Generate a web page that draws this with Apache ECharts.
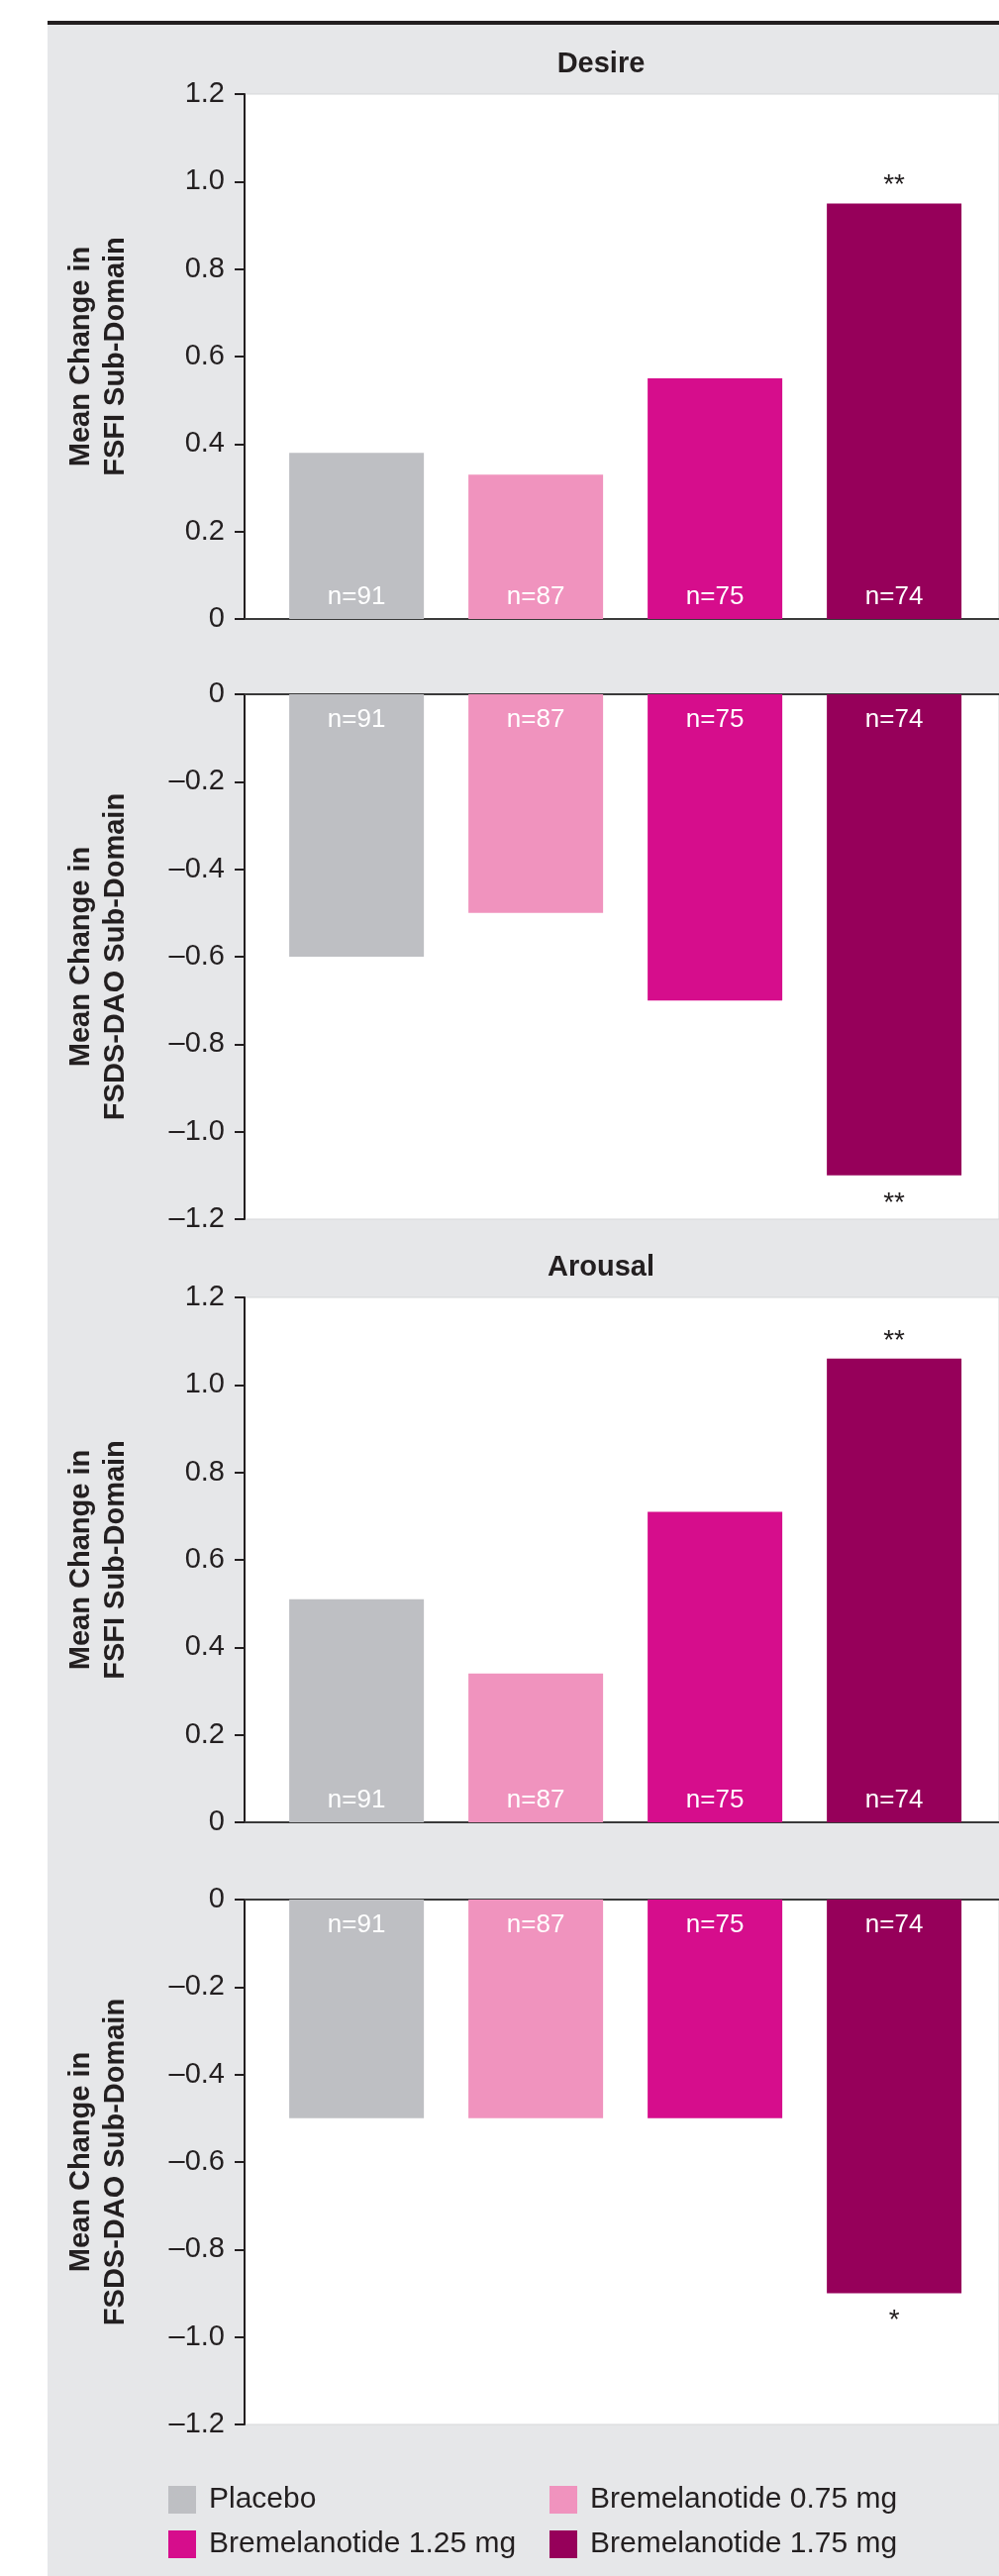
<!DOCTYPE html>
<html>
<head>
<meta charset="utf-8">
<script src="https://cdn.jsdelivr.net/npm/echarts@6/dist/echarts.min.js"></script>
<style>
  html, body { margin: 0; padding: 0; background: #fff; }
  #chart { width: 1009px; height: 2601px; }
</style>
</head>
<body>
<div id="chart"></div>
<script>
// treatment groups
var treatments = ['Placebo', 'Bremelanotide 0.75 mg', 'Bremelanotide 1.25 mg', 'Bremelanotide 1.75 mg'];
var colors = ['#bebfc3', '#f093be', '#d60d8c', '#96005a'];
var nLabels = ['n=91', 'n=87', 'n=75', 'n=74'];

// mean change per sub-domain
var desireFsfi = [0.38, 0.33, 0.55, 0.95];
var desireFsds = [-0.60, -0.50, -0.70, -1.10];
var arousalFsfi = [0.51, 0.34, 0.71, 1.06];
var arousalFsds = [-0.50, -0.50, -0.50, -0.90];

// significance marks
var desireFsfiSig = ['', '', '', '**'];
var desireFsdsSig = ['', '', '', '**'];
var arousalFsfiSig = ['', '', '', '**'];
var arousalFsdsSig = ['', '', '', '*'];

var yNames = ['Mean Change in\nFSFI Sub-Domain', 'Mean Change in\nFSDS-DAO Sub-Domain'];
var yTicksPos = [0, 1.2];
var yTicksNeg = [-1.2, 0];

var FONT = '"Liberation Sans", Arial, sans-serif';
var INK = '#231f20';

var panels = [
    { values: desireFsfi, sig: desireFsfiSig, top: 95, neg: false, name: yNames[0] },
    { values: desireFsds, sig: desireFsdsSig, top: 701, neg: true, name: yNames[1] },
    { values: arousalFsfi, sig: arousalFsfiSig, top: 1310, neg: false, name: yNames[0] },
    { values: arousalFsds, sig: arousalFsdsSig, top: 1918, neg: true, name: yNames[1] }
];

var grids = [], xAxes = [], yAxes = [], series = [];

panels.forEach(function (p, i) {
    grids.push({
        left: 247, right: 0, top: p.top, height: 530,
        show: true, backgroundColor: '#fff', borderColor: '#d6d7d9', borderWidth: 1,
        outerBoundsMode: 'none'
    });
    xAxes.push({
        type: 'value', gridIndex: i, min: -0.625, max: 3.585,
        position: p.neg ? 'top' : 'bottom',
        axisLine: { show: true, onZero: false, lineStyle: { color: '#3a3a3a', width: 2 } },
        axisTick: { show: false }, axisLabel: { show: false }, splitLine: { show: false }
    });
    var range = p.neg ? yTicksNeg : yTicksPos;
    yAxes.push({
        type: 'value', gridIndex: i, min: range[0], max: range[1], interval: 0.2,
        axisLine: { show: true, onZero: false, lineStyle: { color: INK, width: 2 } },
        axisTick: { show: true, length: 10, lineStyle: { color: INK, width: 2 } },
        axisLabel: {
            margin: 20, fontSize: 29, color: INK, fontFamily: FONT,
            formatter: function (v) {
                if (Math.abs(v) < 1e-9) return '0';
                return v.toFixed(1).replace('-', '\u2013');
            }
        },
        splitLine: { show: false },
        name: p.name, nameLocation: 'middle', nameRotate: 90, nameGap: 113,
        nameTextStyle: { fontSize: 29, fontWeight: 'bold', lineHeight: 35, color: INK, fontFamily: FONT, align: 'center' }
    });

    treatments.forEach(function (t, j) {
        series.push({
            type: 'bar', name: t, xAxisIndex: i, yAxisIndex: i,
            data: [[j, p.values[j]]],
            barWidth: 136, barGap: '-100%',
            itemStyle: { color: colors[j] },
            label: {
                show: true, position: p.neg ? 'insideTop' : 'insideBottom',
                distance: p.neg ? 13 : 9,
                formatter: nLabels[j], color: '#fff', fontSize: 26, fontFamily: FONT
            },
            emphasis: { disabled: true }
        });
    });

    series.push({
        type: 'bar', name: 'sig' + i, xAxisIndex: i, yAxisIndex: i,
        data: p.values.map(function (v, j) { return [j, v]; }),
        barWidth: 136, barGap: '-100%', silent: true, z: 5,
        itemStyle: { color: 'rgba(0,0,0,0)' },
        label: {
            show: true, position: p.neg ? 'bottom' : 'top',
            distance: p.neg ? 14 : 4,
            formatter: (function (sig) { return function (d) { return sig[d.dataIndex]; }; })(p.sig),
            color: INK, fontSize: 28, fontFamily: FONT
        },
        emphasis: { disabled: true }
    });
});

var legendText = { fontSize: 30, color: INK, fontFamily: FONT, padding: [0, 0, 0, 8] };

var option = {
    backgroundColor: '#fff',
    animation: false,
    graphic: {
        elements: [
            { type: 'rect', z: -10, silent: true, shape: { x: 48, y: 25, width: 961, height: 2576 }, style: { fill: '#e6e7e9' } },
            { type: 'rect', z: -10, silent: true, shape: { x: 48, y: 21, width: 961, height: 4 }, style: { fill: INK } }
        ]
    },
    title: [
        { text: 'Desire', left: 607, top: 65, textAlign: 'center', textVerticalAlign: 'middle', padding: 0,
          textStyle: { fontSize: 29, fontWeight: 'bold', color: INK, fontFamily: FONT } },
        { text: 'Arousal', left: 607, top: 1280, textAlign: 'center', textVerticalAlign: 'middle', padding: 0,
          textStyle: { fontSize: 29, fontWeight: 'bold', color: INK, fontFamily: FONT } }
    ],
    legend: [
        { left: 170, top: 2509, orient: 'vertical', itemWidth: 28, itemHeight: 28, itemGap: 15, padding: 0,
          icon: 'rect', data: [treatments[0], treatments[2]], textStyle: legendText },
        { left: 555, top: 2509, orient: 'vertical', itemWidth: 28, itemHeight: 28, itemGap: 15, padding: 0,
          icon: 'rect', data: [treatments[1], treatments[3]], textStyle: legendText }
    ],
    grid: grids,
    xAxis: xAxes,
    yAxis: yAxes,
    series: series
};

var chart = echarts.init(document.getElementById('chart'));
chart.setOption(option);
</script>
</body>
</html>
